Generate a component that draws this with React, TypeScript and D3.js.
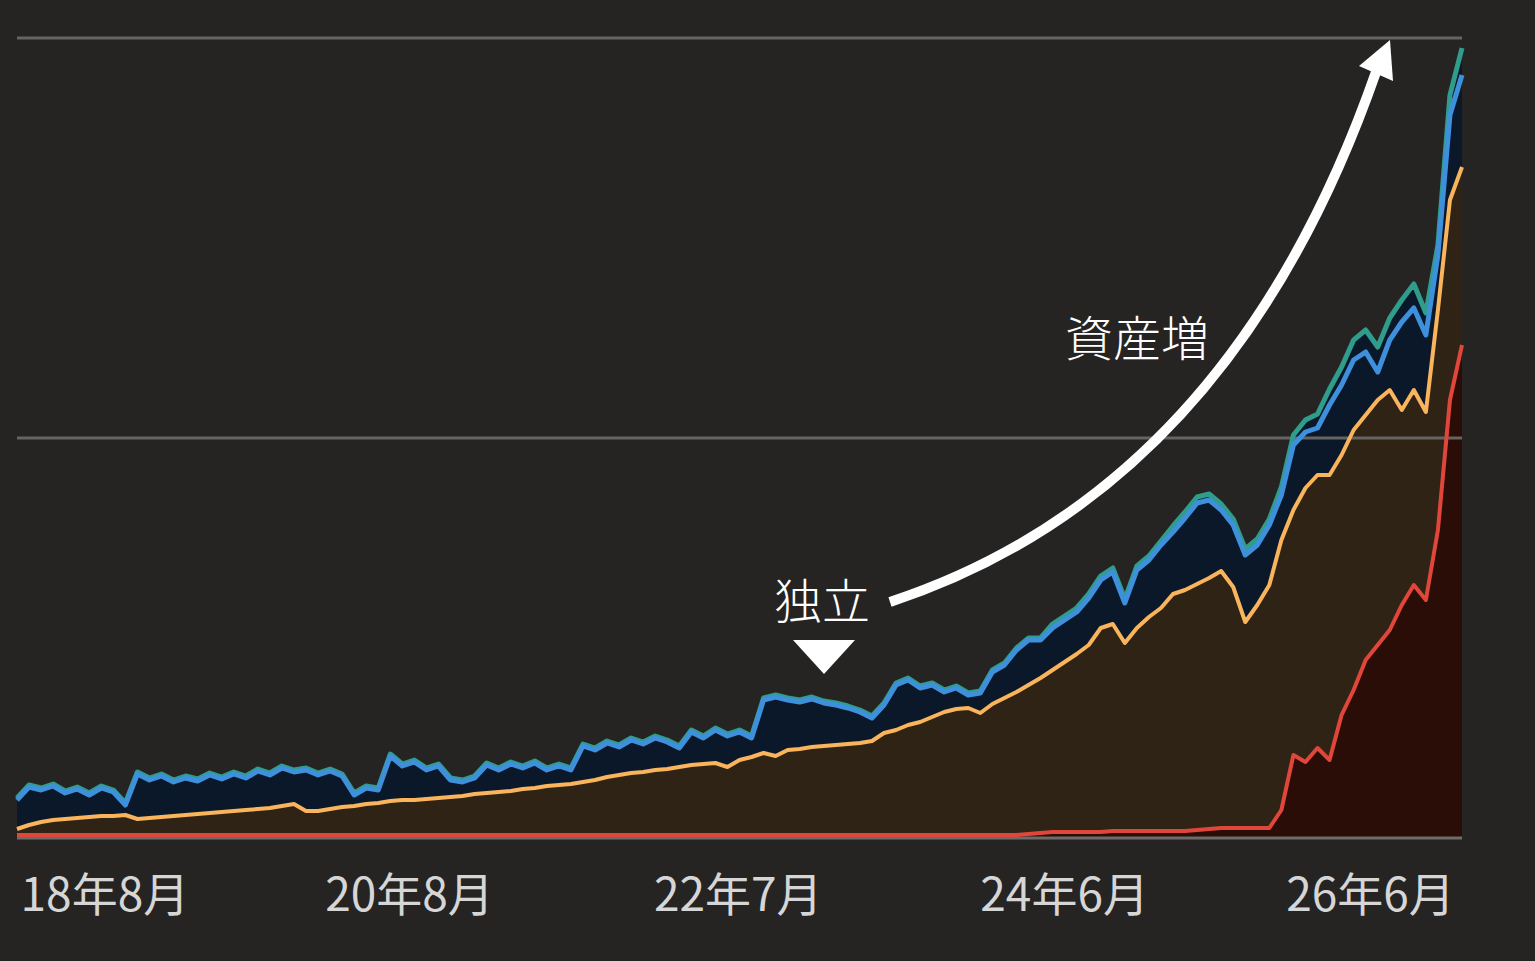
import * as d3 from "d3";

const width = 1535;
const height = 961;
const margin = { top: 38, right: 73, bottom: 123, left: 17 };

// values (0 = baseline, 800 = top gridline)
const teal = [
  40, 53, 50, 54, 47, 51, 45, 52, 48, 35, 66, 60, 64, 58, 62, 59, 65, 61, 66, 62,
  69, 65, 72, 68, 70, 65, 69, 64, 45, 52, 50, 84, 74, 78, 70, 74, 60, 58, 62, 75,
  70, 76, 72, 77, 70, 74, 70, 94, 90, 97, 93, 100, 96, 102, 98, 92, 108, 102, 110, 104,
  108, 102, 140, 143, 140, 138, 141, 137, 135, 132, 128, 122, 135, 155, 160, 152, 155, 148, 152, 145,
  147, 168, 175, 190, 200, 200, 214, 222, 230, 244, 262, 270, 239, 272, 282, 297, 312, 326, 341, 344,
  334, 319, 289, 299, 319, 351, 403, 418, 424, 449, 471, 498, 508, 491, 520, 538, 554, 525, 593, 743,
  790,
];

const blue = [
  38, 51, 48, 52, 45, 49, 43, 50, 46, 33, 64, 58, 62, 56, 60, 57, 63, 59, 64, 60,
  67, 63, 70, 66, 68, 63, 67, 62, 43, 50, 48, 82, 72, 76, 68, 72, 58, 56, 60, 73,
  68, 74, 70, 75, 68, 72, 68, 92, 88, 95, 91, 98, 94, 100, 96, 90, 106, 100, 108, 102,
  106, 100, 138, 141, 138, 136, 139, 135, 133, 130, 126, 120, 133, 153, 158, 150, 153, 146, 150, 143,
  145, 166, 173, 188, 198, 198, 210, 218, 226, 240, 258, 266, 235, 268, 278, 293, 306, 320, 335, 338,
  328, 313, 283, 293, 313, 343, 393, 406, 410, 433, 453, 478, 486, 466, 498, 516, 530, 503, 583, 723,
  763,
];

const orange = [
  9, 13, 16, 18, 19, 20, 21, 22, 22, 23, 19, 20, 21, 22, 23, 24, 25, 26, 27, 28,
  29, 30, 32, 34, 27, 27, 29, 31, 32, 34, 35, 37, 38, 38, 39, 40, 41, 42, 44, 45,
  46, 47, 49, 50, 52, 53, 54, 56, 58, 61, 63, 65, 66, 68, 69, 71, 73, 74, 75, 71,
  78, 81, 85, 82, 88, 89, 91, 92, 93, 94, 95, 97, 105, 108, 113, 116, 121, 126, 129, 130,
  125, 134, 140, 146, 153, 160, 168, 176, 184, 193, 210, 214, 195, 210, 221, 230, 244, 248, 254, 260,
  267, 251, 216, 233, 253, 298, 328, 350, 363, 363, 383, 408, 423, 438, 448, 428, 448, 426, 528, 638,
  671,
];

const red = [
  3, 3, 3, 3, 3, 3, 3, 3, 3, 3, 3, 3, 3, 3, 3, 3, 3, 3, 3, 3,
  3, 3, 3, 3, 3, 3, 3, 3, 3, 3, 3, 3, 3, 3, 3, 3, 3, 3, 3, 3,
  3, 3, 3, 3, 3, 3, 3, 3, 3, 3, 3, 3, 3, 3, 3, 3, 3, 3, 3, 3,
  3, 3, 3, 3, 3, 3, 3, 3, 3, 3, 3, 3, 3, 3, 3, 3, 3, 3, 3, 3,
  3, 3, 3, 3, 4, 5, 6, 6, 6, 6, 6, 7, 7, 7, 7, 7, 7, 7, 8, 9,
  10, 10, 10, 10, 10, 28, 83, 76, 90, 78, 123, 148, 178, 193, 208, 233, 253, 238, 308, 438,
  493,
];

// tick positions are sample indices
const tickIndex = [7.3, 32.6, 59.9, 87, 112.4];
const tickLabels = ["18年8月", "20年8月", "22年7月", "24年6月", "26年6月"];
const gridValues = [0, 400, 800];

const bg = "#252423";
const font = "'Noto Sans CJK JP', 'Noto Sans', sans-serif";

const App = () => {
  const n = blue.length;
  const x = d3.scaleLinear().domain([0, n - 1]).range([margin.left, width - margin.right]);
  const y = d3.scaleLinear().domain([0, 800]).range([height - margin.bottom, margin.top]);

  const area = d3
    .area<number>()
    .x((_, i) => x(i))
    .y0(y(0))
    .y1((d) => y(d));
  const line = d3
    .line<number>()
    .x((_, i) => x(i))
    .y((d) => y(d));

  // annotation arrow
  const arrowPath = "M890,602 Q1230,490 1376,72";

  return (
    <div style={{ position: "absolute", left: 0, top: 0 }}>
      <svg width={width} height={height} style={{ display: "block", background: bg }}>
        <rect width={width} height={height} fill={bg} />

        <path d={area(teal) || ""} fill="#0b1829" />
        <path d={area(orange) || ""} fill="#2f2316" />
        <path d={area(red) || ""} fill="#2b0d08" />

        {gridValues.map((v) => (
          <line
            key={v}
            x1={margin.left}
            x2={width - margin.right}
            y1={y(v)}
            y2={y(v)}
            stroke={v === 0 ? "#6e6c6a" : "#666462"}
            strokeWidth={3}
          />
        ))}

        <path d={line(teal) || ""} fill="none" stroke="#2f9c8c" strokeWidth={5} strokeLinejoin="round" />
        <path d={line(blue) || ""} fill="none" stroke="#3f90dc" strokeWidth={5} strokeLinejoin="round" />
        <path d={line(orange) || ""} fill="none" stroke="#f9b45c" strokeWidth={4} strokeLinejoin="round" />
        <path d={line(red) || ""} fill="none" stroke="#e0473a" strokeWidth={4} strokeLinejoin="round" />

        {tickIndex.map((t, i) => (
          <text
            key={tickLabels[i]}
            x={x(t)}
            y={891}
            textAnchor="middle"
            dominantBaseline="central"
            fill="#d6d6d6"
            fontSize={46}
            fontFamily={font}
          >
            {tickLabels[i]}
          </text>
        ))}

        <path d={arrowPath} fill="none" stroke="#ffffff" strokeWidth={10} />
        <polygon points="1390,40 1359,66 1393,81" fill="#ffffff" />

        <text x={1137} y={335} textAnchor="middle" dominantBaseline="central" fill="#ffffff" fontSize={48} fontWeight={300} fontFamily={font}>
          資産増
        </text>
        <text x={822} y={598} textAnchor="middle" dominantBaseline="central" fill="#ffffff" fontSize={48} fontWeight={300} fontFamily={font}>
          独立
        </text>
        <polygon points="793,640 855,640 824,674" fill="#ffffff" />
      </svg>
    </div>
  );
};

export default App;
